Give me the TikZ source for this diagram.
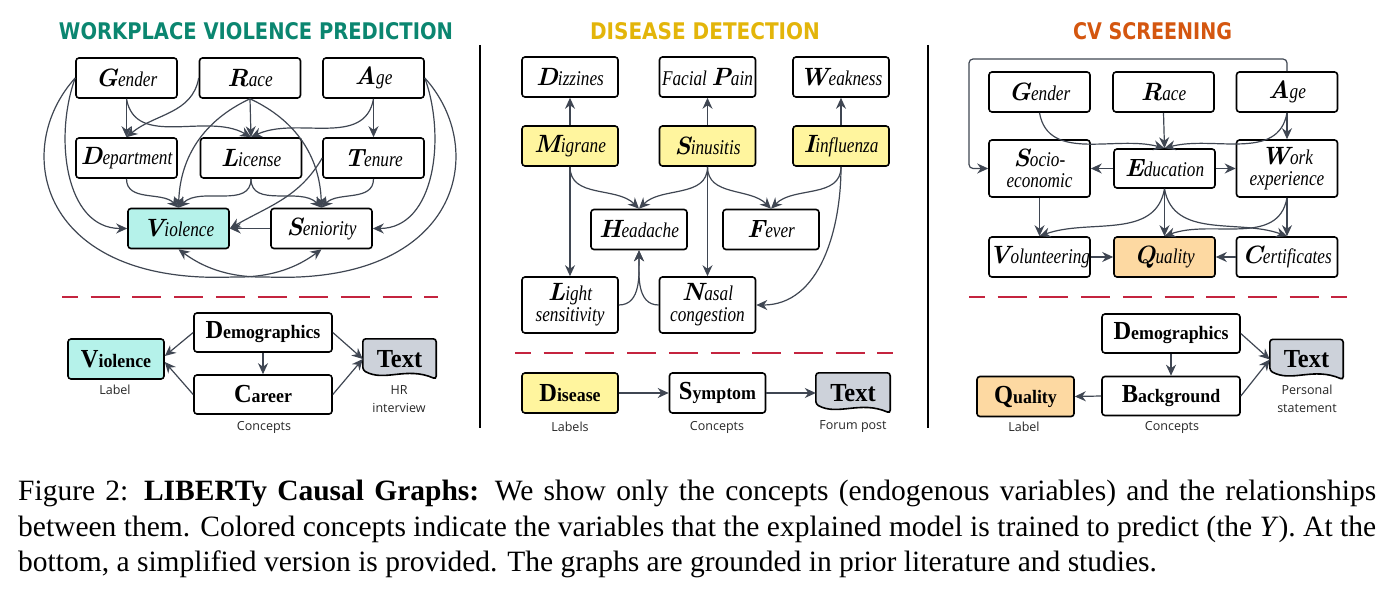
\documentclass[tikz,border=0pt]{standalone}
\usepackage{fontspec}
\usepackage{graphicx}
\usetikzlibrary{arrows.meta,backgrounds}
\newfontfamily\capfont{Liberation Serif}
\newfontfamily\restfont[FakeStretch=0.82]{Liberation Serif}
\newfontfamily\simfont[FakeStretch=0.94]{Liberation Serif}
\newfontfamily\labfont{Open Sans}
\newfontfamily\headfont{DejaVu Sans}
\definecolor{conncol}{HTML}{3F4652}
\definecolor{vcol}{HTML}{B5F2EA}
\definecolor{ycol}{HTML}{FFF59E}
\definecolor{qcol}{HTML}{FDD9A2}
\definecolor{tcol}{HTML}{CDD2DA}
\definecolor{dashcol}{HTML}{C4243F}
\definecolor{wcol}{HTML}{0B8670}
\definecolor{dcol}{HTML}{E3B50A}
\definecolor{ccol}{HTML}{D4560F}
% first letter big and bold, the rest italic
\newcommand{\vn}[2]{{\fontsize{25}{21}\selectfont\bfseries\itshape #1}{\restfont\fontsize{21}{21}\selectfont\itshape #2}}
\newcommand{\vt}[1]{{\restfont\fontsize{21}{21}\selectfont\itshape #1}}
\newcommand{\sn}[2]{{\simfont\fontsize{26}{26}\selectfont\bfseries #1}{\simfont\fontsize{19}{19}\selectfont\bfseries #2}}
\tikzset{
	box/.style={draw,line width=1.6pt,rounded corners=3pt,fill=white,inner sep=0pt,minimum width=101pt,minimum height=40pt,align=center,font=\fontsize{16}{21}\selectfont},
	sbox/.style={box,minimum width=96pt},
	wbox/.style={box,minimum width=138pt,minimum height=39pt},
	docnode/.style={inner sep=0pt,minimum width=73pt,minimum height=40pt,font=\simfont\fontsize{26}{26}\selectfont\bfseries},
	docshape/.style={draw,line width=1.6pt,fill=tcol,rounded corners=3pt},
	conn/.style={draw=conncol,line width=1.2pt,-{Stealth[length=11pt,width=10pt]}},
	lab/.style={font=\labfont\fontsize{12.5}{18}\selectfont,text=black!85,align=center,inner sep=0pt},
	title/.style={font=\headfont\bfseries,inner sep=0pt},
	sep/.style={draw=dashcol,line width=2.6pt,dash pattern=on 29pt off 12.7pt,dash phase=13pt},
	vline/.style={draw,line width=2.6pt}
}
\begin{document}
\begin{tikzpicture}[x=1pt,y=1pt]
\useasboundingbox (0,0) rectangle (1392,-594);

% titles
\node[title,text=wcol] (t1) at (256,-31.5) {\resizebox{394pt}{17pt}{WORKPLACE VIOLENCE PREDICTION}};
\node[title,text=dcol] (t2) at (705,-31.5) {\resizebox{230pt}{17pt}{DISEASE DETECTION}};
\node[title,text=ccol] (t3) at (1152.5,-31.5) {\resizebox{159pt}{17pt}{CV SCREENING}};
\draw[vline] (480,-45) -- (480,-428);
\draw[vline] (928,-45) -- (928,-428);

% workplace violence
\node[box] (gen) at (126.5,-78) {\vn{G}{ender}};
\node[box] (race) at (250,-78) {\vn{R}{ace}};
\node[box] (age) at (373.5,-78) {\vn{A}{ge}};
\node[box] (dep) at (126.5,-158) {\vn{D}{epartment}};
\node[box] (lic) at (251,-158) {\vn{L}{icense}};
\node[box] (ten) at (373.5,-158) {\vn{T}{enure}};
\node[box,fill=vcol] (vio) at (178.5,-228.5) {\vn{V}{iolence}};
\node[box] (sen) at (321.5,-228.5) {\vn{S}{eniority}};

\draw[conn] (gen.south) -- (dep.north);
\draw[conn] (gen.south) to[out=-80,in=150] (lic.north);
\draw[conn] (race.west) to[out=-100,in=40] (dep.north);
\draw[conn] (race.south) -- (lic.north);
\draw[conn] (race.south) to[out=-155,in=88] (vio.north);
\draw[conn] (race.south) to[out=-25,in=92] (sen.north);
\draw[conn] (age.south) to[out=-100,in=25] (lic.north);
\draw[conn] (age.south) -- (ten.north);
\draw[conn] (dep.south) to[out=-90,in=135] (vio.north);
\draw[conn] (lic.south) to[out=-90,in=45] (vio.north);
\draw[conn] (lic.south) to[out=-90,in=135] (sen.north);
\draw[conn] (ten.south) to[out=-90,in=45] (sen.north);
\draw[conn] (ten.west) to[out=-120,in=30] (vio.east);
\draw[conn] (sen.west) -- (vio.east);
\draw[conn] (gen.west) to[out=-110,in=180] (vio.west);
\draw[conn] (age.east) to[out=-70,in=0] (sen.east);
\draw[conn] (gen.west) .. controls (10,-150) and (40,-285) .. (233,-277) .. controls (275,-278) and (300,-265) .. (sen.south);
\draw[conn] (age.east) .. controls (490,-150) and (460,-285) .. (267,-277) .. controls (225,-278) and (200,-265) .. (vio.south);

\draw[sep] (62,-297) -- (438,-297);

\node[sbox,fill=vcol] (vio2) at (116,-359) {\sn{V}{iolence}};
\node[wbox] (demo) at (263,-332.5) {\sn{D}{emographics}};
\node[wbox] (car) at (263,-394.5) {\sn{C}{areer}};
\node[docnode] (txt1) at (399.5,-359) {Text};
\begin{scope}[on background layer]
\path[docshape] ([yshift=9pt]txt1.south west) -- (txt1.north west) -- (txt1.north east) -- (txt1.south east) .. controls +(-30,13) and +(22,-12) .. ([yshift=9pt]txt1.south west) -- cycle;
\end{scope}
\node[lab] (l1) at (115,-390) {Label};
\node[lab] (l2) at (264,-427) {Concepts};
\node[lab] (l3) at (399,-399) {HR\\interview};

\draw[conn] (demo.west) -- ([yshift=3pt]vio2.east);
\draw[conn] (car.west) -- ([yshift=-3pt]vio2.east);
\draw[conn] (demo.south) -- (car.north);
\draw[conn] (demo.east) -- (txt1.west);
\draw[conn] (car.east) -- (txt1.west);

% disease detection
\node[sbox] (diz) at (570,-77) {\vn{D}{izzines}};
\node[sbox] (fac) at (707.5,-77) {\vt{Facial }\vn{P}{ain}};
\node[sbox] (weak) at (841,-77) {\vn{W}{eakness}};
\node[sbox,fill=ycol] (mig) at (570,-146) {\vn{M}{igrane}};
\node[sbox,fill=ycol] (sin) at (707.5,-146) {\vn{S}{inusitis}};
\node[sbox,fill=ycol] (inf) at (841,-146) {\vn{I}{influenza}};
\node[sbox] (head) at (639,-229.5) {\vn{H}{eadache}};
\node[sbox] (fev) at (771,-229.5) {\vn{F}{ever}};
\node[sbox,minimum height=56pt] (light) at (570,-305) {\vn{L}{ight}\\\vt{sensitivity}};
\node[sbox,minimum height=56pt] (nasal) at (707.5,-305) {\vn{N}{asal}\\\vt{congestion}};

\draw[conn] (mig.north) -- (diz.south);
\draw[conn] (sin.north) -- (fac.south);
\draw[conn] (inf.north) -- (weak.south);
\draw[conn] (mig.south) to[out=-90,in=135] (head.north);
\draw[conn] (sin.south) to[out=-90,in=45] (head.north);
\draw[conn] (sin.south) to[out=-90,in=135] (fev.north);
\draw[conn] (inf.south) to[out=-90,in=45] (fev.north);
\draw[conn] (mig.south) -- (light.north);
\draw[conn] (sin.south) -- (nasal.north);
\draw[conn] (inf.south) to[out=-90,in=0] (nasal.east);
\draw[conn] (light.east) to[out=0,in=-90] (head.south);
\draw[conn] (nasal.west) to[out=180,in=-90] (head.south);

\draw[sep] (515,-353) -- (893,-353);

\node[sbox,fill=ycol] (dis) at (570,-393) {\sn{D}{isease}};
\node[sbox] (sym) at (717.5,-393) {\sn{S}{ymptom}};
\node[docnode,minimum width=74pt] (txt2) at (853,-393) {Text};
\begin{scope}[on background layer]
\path[docshape] ([yshift=9pt]txt2.south west) -- (txt2.north west) -- (txt2.north east) -- (txt2.south east) .. controls +(-30,13) and +(22,-12) .. ([yshift=9pt]txt2.south west) -- cycle;
\end{scope}
\node[lab] (l4) at (570,-427) {Labels};
\node[lab] (l5) at (717,-427) {Concepts};
\node[lab] (l6) at (853,-427) {Forum post};

\draw[conn] (dis.east) -- (sym.west);
\draw[conn] (sym.east) -- (txt2.west);

% cv screening
\node[box] (gen2) at (1039.5,-92) {\vn{G}{ender}};
\node[box] (race2) at (1163.5,-92) {\vn{R}{ace}};
\node[box] (age2) at (1287,-92) {\vn{A}{ge}};
\node[box,minimum height=57pt] (soc) at (1039.5,-168.5) {\vn{S}{ocio-}\\\vt{economic}};
\node[box,minimum height=39pt] (edu) at (1164.5,-168.5) {\vn{E}{ducation}};
\node[box,minimum height=57pt] (work) at (1287,-168.5) {\vn{W}{ork}\\\vt{experience}};
\node[box] (vol) at (1039.5,-257) {\vn{V}{olunteering}};
\node[box,fill=qcol] (qual) at (1164.5,-257) {\vn{Q}{uality}};
\node[box] (cert) at (1287,-257) {\vn{C}{ertificates}};
\coordinate (loop) at (969,-59);

\draw[conn] (gen2.south) to[out=-80,in=165] (edu.north);
\draw[conn] (race2.south) -- (edu.north);
\draw[conn] (age2.south) to[out=-100,in=15] (edu.north);
\draw[conn] (age2.south) -- (work.north);
\draw[conn,rounded corners=4pt] (age2.north) |- (loop) |- (soc.west);
\draw[conn] (edu.west) -- (soc.east);
\draw[conn] (edu.east) -- (work.west);
\draw[conn] (soc.south) -- (vol.north);
\draw[conn] (edu.south) to[out=-100,in=20] (vol.north);
\draw[conn] (edu.south) -- (qual.north);
\draw[conn] (edu.south) to[out=-80,in=160] (cert.north);
\draw[conn] (work.south) to[out=-100,in=20] (qual.north);
\draw[conn] (work.south) -- (cert.north);
\draw[conn] (vol.east) -- (qual.west);
\draw[conn] (cert.west) -- (qual.east);

\draw[sep] (969,-297) -- (1347,-297);

\node[wbox] (demo2) at (1171,-333.5) {\sn{D}{emographics}};
\node[wbox] (back) at (1171,-396) {\sn{B}{ackground}};
\node[sbox,minimum width=97pt,fill=qcol] (qual2) at (1025.5,-396.5) {\sn{Q}{uality}};
\node[docnode] (txt3) at (1306.5,-359.5) {Text};
\begin{scope}[on background layer]
\path[docshape] ([yshift=9pt]txt3.south west) -- (txt3.north west) -- (txt3.north east) -- (txt3.south east) .. controls +(-30,13) and +(22,-12) .. ([yshift=9pt]txt3.south west) -- cycle;
\end{scope}
\node[lab] (l7) at (1024,-427) {Label};
\node[lab] (l8) at (1172,-427) {Concepts};
\node[lab] (l9) at (1307,-399) {Personal\\statement};

\draw[conn] (demo2.south) -- (back.north);
\draw[conn] (back.west) -- (qual2.east);
\draw[conn] (demo2.east) -- (txt3.west);
\draw[conn] (back.east) -- (txt3.west);

% caption
\node[anchor=base west,inner sep=0pt,font=\capfont\fontsize{29.5}{34}\selectfont] (cap1) at (18,-500) {\makebox[1358pt][s]{Figure 2: \textbf{LIBERTy Causal Graphs:} We show only the concepts (endogenous variables) and the relationships}};
\node[anchor=base west,inner sep=0pt,font=\capfont\fontsize{29.5}{34}\selectfont] (cap2) at (18,-536) {\makebox[1358pt][s]{between them. Colored concepts indicate the variables that the explained model is trained to predict (the \textit{Y}). At the}};
\node[anchor=base west,inner sep=0pt,font=\capfont\fontsize{29.5}{34}\selectfont] (cap3) at (18,-571) {bottom, a simplified version is provided. The graphs are grounded in prior literature and studies.};
\end{tikzpicture}
\end{document}
